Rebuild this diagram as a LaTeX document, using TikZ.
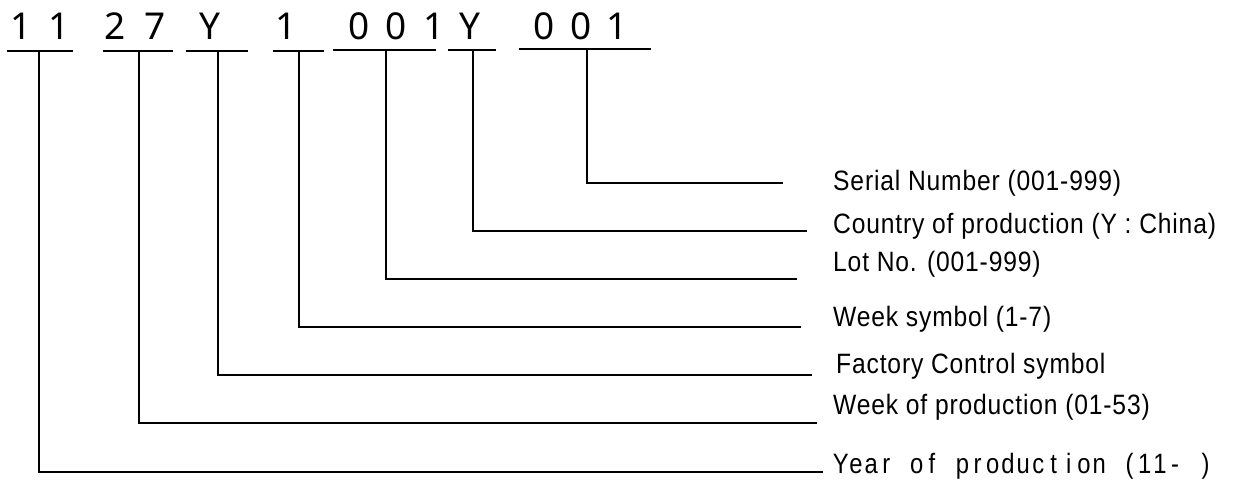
\documentclass[tikz,border=0pt]{standalone}
\usepackage{fontspec}
\setmainfont{Liberation Sans}
\newfontfamily\digitfont{Noto Sans}
\newfontfamily\lblfont[FakeStretch=0.88,LetterSpace=3]{Liberation Sans}
\newfontfamily\yrfont[FakeStretch=0.85]{Liberation Sans}
\newcommand\yc[1]{\makebox[15.2pt]{#1}}
\begin{document}
\begin{tikzpicture}[x=1pt,y=-1pt,
  digit/.style={font=\digitfont\fontsize{37}{40}\selectfont, anchor=base, inner sep=0pt},
  lbl/.style={font=\lblfont\fontsize{28}{30}\selectfont, anchor=base west, inner sep=0pt},
  yrlbl/.style={font=\yrfont\fontsize{28}{30}\selectfont, anchor=base west, inner sep=0pt},
  ul/.style={line width=2.4pt},
  conn/.style={line width=2pt}]
\useasboundingbox (0,0) rectangle (1234,482);
% code characters
\node[digit] (d1) at (21,39) {1};
\node[digit] (d2) at (59,39) {1};
\node[digit] (d3) at (115,39) {2};
\node[digit] (d4) at (155,39) {7};
\node[digit] (d5) at (210,39) {Y};
\node[digit] (d6) at (286,39) {1};
\node[digit] (d7) at (359,39) {0};
\node[digit] (d8) at (396,39) {0};
\node[digit] (d9) at (434,39) {1};
\node[digit] (d10) at (470,39) {Y};
\node[digit] (d11) at (544,39) {0};
\node[digit] (d12) at (581,39) {0};
\node[digit] (d13) at (617,39) {1};
% underlines
\coordinate (ua1) at (7,51);   \coordinate (ub1) at (73,51);
\coordinate (ua2) at (103,51); \coordinate (ub2) at (173,51);
\coordinate (ua3) at (186,51); \coordinate (ub3) at (248,51);
\coordinate (ua4) at (273,51); \coordinate (ub4) at (324,51);
\coordinate (ua5) at (333,50); \coordinate (ub5) at (436,50);
\coordinate (ua6) at (448,50); \coordinate (ub6) at (496,50);
\coordinate (ua7) at (519,49); \coordinate (ub7) at (651,49);
\foreach \i in {1,...,7} \draw[ul] (ua\i) -- (ub\i);
% connector tops and ends
\coordinate (t1) at (39,51);  \coordinate (e1) at (823,472);
\coordinate (t2) at (139,51); \coordinate (e2) at (817,423);
\coordinate (t3) at (218,51); \coordinate (e3) at (812,375);
\coordinate (t4) at (299,51); \coordinate (e4) at (801,327);
\coordinate (t5) at (386,50); \coordinate (e5) at (797,279);
\coordinate (t6) at (473,50); \coordinate (e6) at (807,231);
\coordinate (t7) at (587,49); \coordinate (e7) at (783,183);
\foreach \i in {1,...,7} \draw[conn] (t\i) |- (e\i);
% labels
\node[lbl] (l7) at (833,190) {Serial Number (001-999)};
\node[lbl] (l6) at (833,233) {Country of production (Y : China)};
\node[lbl] (l5) at (833,271) {Lot No. (001-999)};
\node[lbl] (l4) at (833,326) {Week symbol (1-7)};
\node[lbl] (l3) at (836,373) {Factory Control symbol};
\node[lbl] (l2) at (833,414) {Week of production (01-53)};
\node[yrlbl] (l1) at (833,473) {\yc{Y}\yc{e}\yc{a}\yc{r}\yc{ }\yc{o}\yc{f}\yc{ }\yc{p}\yc{r}\yc{o}\yc{d}\yc{u}\yc{c}\yc{t}\yc{i}\yc{o}\yc{n}\yc{ }\yc{(}\yc{1}\yc{1}\yc{-}\yc{ }\yc{)}};
\end{tikzpicture}
\end{document}
